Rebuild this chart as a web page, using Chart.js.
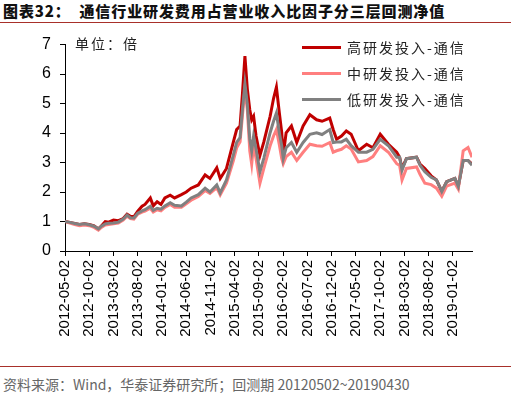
<!DOCTYPE html>
<html>
<head>
<meta charset="utf-8">
<script src="https://cdn.jsdelivr.net/npm/chart.js@4.4.1/dist/chart.umd.min.js"></script>
<style>
  html, body { margin: 0; padding: 0; background: #fff; }
  #wrap { position: relative; width: 511px; height: 395px; overflow: hidden; }
  #title {
    position: absolute; left: 3px; top: 2px; white-space: pre;
    font-family: "Noto Sans CJK SC", sans-serif; font-weight: 900;
    font-size: 15px; letter-spacing: 0.9px; color: #111; line-height: 18px;
  }
  .rule { position: absolute; left: 0; width: 511px; height: 1px; background: #a8302a; }
  #chartBox { position: absolute; left: 0; top: 26px; width: 511px; height: 334px; }
  #unit {
    position: absolute; left: 75px; top: 34px;
    font-family: "Noto Sans CJK SC", sans-serif; font-size: 14px; letter-spacing: 2px;
    color: #222; line-height: 18px;
  }
  #legend { position: absolute; left: 302px; top: 34px; margin: 0; padding: 0; list-style: none; }
  #source {
    position: absolute; left: 3px; top: 376px; white-space: pre;
    font-family: "Noto Sans CJK SC", sans-serif; font-size: 14px; color: #666; line-height: 16px;
  }
</style>
</head>
<body>
<div id="wrap">
  <div id="title">图表32：  通信行业研发费用占营业收入比因子分三层回测净值</div>
  <div class="rule" style="top:22px"></div>
  <div id="chartBox"><canvas id="c" width="511" height="334"></canvas></div>
  <div id="unit">单位：倍</div>
  <ul id="legend"></ul>
  <div class="rule" style="top:366px"></div>
  <div id="source">资料来源：Wind，华泰证券研究所；回测期 20120502~20190430</div>
</div>
<script>
// Net value of the three R&D-intensity layers (approximate)
const dates = [
  '2012-05-02', '2012-06-02', '2012-07-02', '2012-08-02', '2012-09-02', '2012-10-02',
  '2012-11-02', '2012-11-29', '2012-12-17', '2013-01-11', '2013-02-02', '2013-03-02',
  '2013-04-02', '2013-05-02', '2013-05-26', '2013-06-17', '2013-07-08', '2013-08-02',
  '2013-08-29', '2013-09-17', '2013-10-20', '2013-11-08', '2013-12-02', '2013-12-26',
  '2014-01-20', '2014-02-23', '2014-03-20', '2014-05-02', '2014-06-02', '2014-07-02',
  '2014-08-17', '2014-09-29', '2014-10-29', '2014-12-11', '2015-01-02', '2015-02-11',
  '2015-03-23', '2015-04-14', '2015-05-05', '2015-05-20', '2015-06-05', '2015-06-20',
  '2015-07-05', '2015-07-17', '2015-07-29', '2015-08-14', '2015-09-08', '2015-10-02',
  '2015-11-11', '2015-12-02', '2015-12-20', '2016-01-08', '2016-01-23', '2016-02-02',
  '2016-02-20', '2016-03-23', '2016-04-26', '2016-06-05', '2016-07-17', '2016-08-29',
  '2016-10-02', '2016-11-20', '2016-12-11', '2017-01-02', '2017-02-02', '2017-03-02',
  '2017-04-02', '2017-05-17', '2017-07-08', '2017-08-17', '2017-10-02', '2017-11-23',
  '2018-01-14', '2018-02-02', '2018-02-17', '2018-03-14', '2018-05-17', '2018-06-08',
  '2018-07-08', '2018-08-17', '2018-09-20', '2018-10-23', '2018-11-23', '2019-01-14',
  '2019-02-05', '2019-03-05', '2019-04-05', '2019-04-30',
];
const highRD = [
  1.00, 0.97, 0.93, 0.90, 0.92, 0.90, 0.85, 0.75, 0.85, 1.00, 0.98, 1.05,
  1.03, 1.10, 1.25, 1.18, 1.16, 1.35, 1.52, 1.58, 1.80, 1.53, 1.67, 1.58,
  1.80, 1.89, 1.80, 1.91, 2.00, 2.13, 2.24, 2.58, 2.46, 2.82, 2.46, 2.80,
  3.68, 4.12, 4.24, 5.34, 6.61, 5.50, 4.79, 4.45, 4.57, 3.90, 3.24, 3.70,
  4.57, 5.17, 5.56, 4.68, 4.01, 3.24, 4.01, 4.24, 3.68, 4.24, 4.62, 4.45,
  4.40, 4.51, 4.12, 3.79, 3.90, 4.07, 3.96, 3.40, 3.62, 3.50, 3.96, 3.62,
  3.35, 3.18, 2.80, 3.13, 3.18, 2.95, 2.80, 2.55, 2.41, 2.02, 2.35, 2.46,
  2.19, 3.07, 3.07, 2.95,
];
const midRD = [
  1.00, 0.95, 0.90, 0.86, 0.88, 0.86, 0.80, 0.71, 0.80, 0.88, 0.90, 0.92,
  0.95, 1.05, 1.18, 1.10, 1.08, 1.25, 1.32, 1.35, 1.45, 1.32, 1.40, 1.36,
  1.48, 1.58, 1.48, 1.48, 1.60, 1.72, 1.85, 2.05, 1.95, 2.15, 1.90, 2.30,
  3.05, 3.50, 3.70, 4.60, 5.50, 4.80, 3.40, 2.95, 3.60, 3.13, 2.30, 2.80,
  3.57, 3.90, 4.12, 3.60, 3.13, 2.96, 3.20, 3.35, 3.07, 3.35, 3.62, 3.57,
  3.55, 3.68, 3.35, 3.40, 3.45, 3.57, 3.46, 3.02, 3.07, 3.20, 3.57, 3.35,
  2.96, 2.90, 2.41, 2.80, 2.85, 2.60, 2.30, 2.25, 2.13, 1.86, 2.20, 2.30,
  2.10, 3.40, 3.51, 3.18,
];
const lowRD = [
  1.00, 0.97, 0.93, 0.90, 0.92, 0.89, 0.84, 0.75, 0.84, 0.92, 0.94, 0.95,
  0.98, 1.08, 1.22, 1.13, 1.12, 1.28, 1.36, 1.40, 1.52, 1.38, 1.45, 1.42,
  1.53, 1.64, 1.55, 1.53, 1.66, 1.80, 1.91, 2.13, 2.00, 2.24, 1.97, 2.41,
  3.24, 3.68, 3.85, 4.80, 5.67, 5.00, 3.80, 3.40, 3.90, 3.46, 2.69, 3.15,
  4.01, 4.40, 4.68, 4.00, 3.57, 3.13, 3.50, 3.68, 3.35, 3.68, 3.96, 4.01,
  3.95, 4.12, 3.68, 3.70, 3.70, 3.79, 3.57, 3.35, 3.35, 3.45, 3.79, 3.57,
  3.18, 3.18, 2.74, 3.13, 3.18, 2.91, 2.69, 2.50, 2.41, 2.02, 2.35, 2.46,
  2.19, 3.07, 3.07, 2.91,
];
const seriesNames = ['高研发投入-通信', '中研发投入-通信', '低研发投入-通信'];
const seriesColors = ['#c00000', '#ff7f7f', '#808080'];
const tickLabels = [
  '2012-05-02', '2012-10-02', '2013-03-02', '2013-08-02', '2014-01-02', '2014-06-02',
  '2014-11-02', '2015-04-02', '2015-09-02', '2016-02-02', '2016-07-02', '2016-12-02',
  '2017-05-02', '2017-10-02', '2018-03-02', '2018-08-02', '2019-01-02',
];
const startDate = '2012-05-02';
const endDate = '2019-04-30';

// months elapsed since the first backtest day
function monthsFrom(d) {
  const [y, m, dd] = d.split('-').map(Number);
  const [y0, m0, d0] = startDate.split('-').map(Number);
  return (y - y0) * 12 + (m - m0) + (dd - d0) / 30.4;
}

const xs = dates.map(monthsFrom);
const toPoints = (vals) => vals.map((v, i) => ({ x: xs[i], y: v }));

const cjk = '"Noto Sans CJK SC", sans-serif';
const latin = '"Liberation Sans", Arial, sans-serif';

const ctx = document.getElementById('c');
const chart = new Chart(ctx, {
  type: 'line',
  data: {
    datasets: [highRD, midRD, lowRD].map((vals, i) => ({
      label: seriesNames[i],
      data: toPoints(vals),
      borderColor: seriesColors[i],
      backgroundColor: seriesColors[i],
      borderWidth: 3,
      pointRadius: 0,
      tension: 0,
      order: 3 - i, // grey on top, red at the bottom
    })),
  },
  options: {
    responsive: false,
    animation: false,
    layout: {
      padding: { top: 14, right: 39, left: 0, bottom: 0 },
    },
    scales: {
      x: {
        type: 'linear',
        min: 0,
        max: monthsFrom(endDate),
        afterBuildTicks: (scale) => {
          scale.ticks = tickLabels.map((d) => ({ value: monthsFrom(d) }));
        },
        afterFit: (scale) => { scale.height = 109; },
        border: { color: '#000', width: 1 },
        grid: {
          drawOnChartArea: false,
          drawTicks: true,
          tickLength: 5,
          color: '#000',
        },
        ticks: {
          autoSkip: false,
          minRotation: 90,
          maxRotation: 90,
          padding: 4,
          color: '#000',
          font: { family: latin, size: 15 },
          callback: (value, index) => tickLabels[index],
        },
      },
      y: {
        min: 0,
        max: 7,
        afterFit: (scale) => { scale.width = 65; },
        border: { color: '#000', width: 1 },
        grid: {
          drawOnChartArea: false,
          drawTicks: true,
          tickLength: 5,
          color: '#000',
        },
        ticks: {
          stepSize: 1,
          padding: 9,
          color: '#000',
          font: { family: latin, size: 16 },
        },
      },
    },
    plugins: {
      legend: { display: false },
      tooltip: { enabled: false },
    },
  },
  plugins: [{
    id: 'htmlLegend',
    afterUpdate(c) {
      const ul = document.getElementById('legend');
      if (!ul) return;
      while (ul.firstChild) {
        ul.firstChild.remove();
      }
      // keep series order (draw order is reversed via `order`)
      const items = c.options.plugins.legend.labels.generateLabels(c)
        .sort((a, b) => a.datasetIndex - b.datasetIndex);
      items.forEach((item) => {
        const li = document.createElement('li');
        li.style.display = 'flex';
        li.style.alignItems = 'center';
        li.style.height = '26px';
        // line swatch
        const box = document.createElement('span');
        box.style.display = 'block';
        box.style.width = '39px';
        box.style.height = '3px';
        box.style.marginRight = '6px';
        box.style.background = item.strokeStyle;
        // label
        const label = document.createElement('span');
        label.style.fontFamily = cjk;
        label.style.fontSize = '14px';
        label.style.letterSpacing = '2px';
        label.style.color = '#222';
        label.appendChild(document.createTextNode(item.text));
        li.appendChild(box);
        li.appendChild(label);
        ul.appendChild(li);
      });
    },
  }],
});
</script>
</body>
</html>
